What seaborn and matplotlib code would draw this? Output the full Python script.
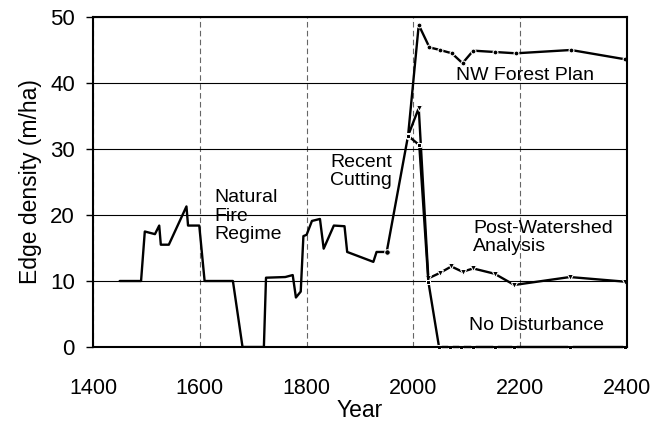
import matplotlib
matplotlib.use("Agg")
import matplotlib.pyplot as plt
import seaborn as sns
import pandas as pd

# ---- data ----
hist_years = [1450, 1490, 1497, 1516, 1524, 1527, 1542, 1575, 1578, 1599, 1609,
              1662, 1680, 1720, 1724, 1760, 1774, 1780, 1789, 1794, 1800, 1810,
              1825, 1832, 1851, 1871, 1876, 1925, 1931, 1950, 1990]
hist_vals = [10, 10, 17.5, 17.1, 18.4, 15.5, 15.5, 21.3, 18.4, 18.4, 10,
             10, 0, 0, 10.5, 10.6, 10.9, 7.5, 8.4, 16.8, 17.0, 19.1,
             19.4, 14.9, 18.4, 18.3, 14.4, 12.9, 14.4, 14.4, 32]

nw_years = [1990, 2010, 2030, 2050, 2072, 2092, 2112, 2152, 2192, 2295, 2396]
nw_vals = [32, 48.8, 45.4, 45.0, 44.5, 43.0, 44.9, 44.7, 44.5, 45.0, 43.6]

pw_years = [1990, 2010, 2028, 2049, 2071, 2092, 2112, 2152, 2189, 2293, 2396]
pw_vals = [32, 36.2, 10.4, 11.2, 12.2, 11.4, 11.9, 11.1, 9.4, 10.6, 9.9]

nd_years = [1990, 2011, 2028, 2048, 2069, 2090, 2112, 2152, 2189, 2293, 2396]
nd_vals = [32, 30.6, 9.9, 0, 0, 0, 0, 0, 0, 0, 0]

x_ticks = [1400, 1600, 1800, 2000, 2200, 2400]
y_ticks = [0, 10, 20, 30, 40, 50]

labels = {
    "Natural\nFire\nRegime": (1628, 23.9),
    "Recent\nCutting": (1844, 29.3),
    "NW Forest Plan": (2080, 42.5),
    "Post-Watershed\nAnalysis": (2112, 19.3),
    "No Disturbance": (2104, 4.6),
}

# ---- plotting ----
sns.set_style("white")
plt.rcParams["font.family"] = ["Liberation Sans", "DejaVu Sans"]

fig = plt.figure(figsize=(6.62, 4.25), dpi=100)
ax = fig.add_axes([93 / 662, 78 / 425, 534 / 662, 330 / 425])

lw = 1.7
sns.lineplot(x=hist_years, y=hist_vals, ax=ax, color="black", lw=lw,
             sort=False, estimator=None, marker="o", markersize=4,
             markevery=[len(hist_years) - 2, len(hist_years) - 1])
sns.lineplot(x=nw_years, y=nw_vals, ax=ax, color="black", lw=lw,
             sort=False, estimator=None, marker="o", markersize=3.5)
sns.lineplot(x=pw_years, y=pw_vals, ax=ax, color="black", lw=lw,
             sort=False, estimator=None, marker="v", markersize=4)
sns.lineplot(x=nd_years, y=nd_vals, ax=ax, color="black", lw=lw,
             sort=False, estimator=None, marker="s", markersize=3.5,
             clip_on=False)

ax.set_xlim(1400, 2400)
ax.set_ylim(0, 50)
ax.set_xticks(x_ticks)
ax.set_yticks(y_ticks)
ax.set_axisbelow(True)
ax.yaxis.grid(True, color="black", lw=0.8, ls="-")
ax.xaxis.grid(True, color="0.4", lw=0.8, ls=(0, (5, 3)))

for s in ax.spines.values():
    s.set_color("black")
    s.set_linewidth(1.5)

ax.tick_params(axis="y", direction="out", length=5, width=1, pad=8,
               labelsize=16, left=True, colors="black")
ax.tick_params(axis="x", direction="out", length=0, pad=22,
               labelsize=15.5, colors="black")

ax.set_xlabel("Year", fontsize=16.5, labelpad=0, color="black")
ax.set_ylabel("Edge density (m/ha)", fontsize=16.5, labelpad=6, color="black")

for txt, (x, y) in labels.items():
    ax.text(x, y, txt, fontsize=14, va="top", ha="left", color="black",
            linespacing=1.1)

fig.savefig("out.png", dpi=100, facecolor="white")
